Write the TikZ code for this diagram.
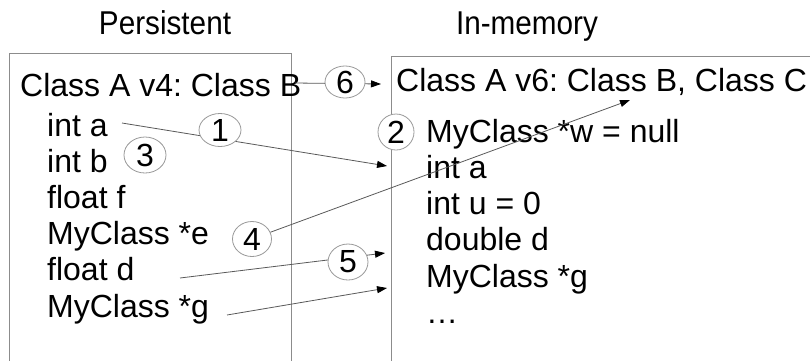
\documentclass[tikz,border=0pt]{standalone}
\usepackage{fontspec}
\setmainfont{Liberation Sans}
\usetikzlibrary{shapes.geometric,arrows.meta}
\frenchspacing
\begin{document}
\begin{tikzpicture}[x=1pt,y=-1pt,
  txt/.style={anchor=base west,inner sep=0pt,font=\fontsize{32}{36}\selectfont},
  ttl/.style={anchor=base,inner sep=0pt,xscale=0.9,font=\fontsize{33}{36}\selectfont},
  num/.style={ellipse,draw=black!40,fill=white,line width=0.8pt,inner sep=0pt,font=\fontsize{32}{34}\selectfont},
  conn/.style={draw=black!65,line width=0.8pt,-{Triangle[length=10pt,width=7pt,color=black]}},
  frame/.style={draw=black!45,line width=1pt}]
\useasboundingbox (0,0) rectangle (810,360);
% titles
\node[ttl] (tp) at (165,34) {Persistent};
\node[ttl] (tm) at (527,34) {In-memory};
% frames
\draw[frame] (9,53) rectangle (291,380);
\draw[frame] (391,56) rectangle (830,380);
% left texts
\node[txt] (lc) at (20,96) {Class A v4: Class B};
\node[txt] (la) at (47,136) {int a};
\node[txt] (lb) at (47,172) {int b};
\node[txt] (lf) at (47,208) {float f};
\node[txt] (le) at (47,244) {MyClass *e};
\node[txt] (ld) at (47,280) {float d};
\node[txt] (lg) at (47,317) {MyClass *g};
% right texts
\node[txt] (rc) at (396,91) {Class A v6: Class B, Class C};
\node[txt] (rw) at (426,142) {MyClass *w = null};
\node[txt] (ra) at (426,178) {int a};
\node[txt] (ru) at (426,214) {int u = 0};
\node[txt] (rd) at (426,250) {double d};
\node[txt] (rg) at (426,287) {MyClass *g};
\node[txt] (rx) at (426,323) {\ldots};
% connector end points
\coordinate (s6) at (295,83);
\coordinate (t6) at (381,84);
\coordinate (s1) at (122,123);
\coordinate (t1) at (387,166);
\coordinate (t4) at (630,100);
\coordinate (s5) at (180,278);
\coordinate (t5) at (385,253);
\coordinate (sg) at (227,315);
\coordinate (tg) at (387,288);
% connectors
\draw[conn] (s6) -- (t6);
\draw[conn] (s1) -- (t1);
\draw[conn] (s5) -- (t5);
\draw[conn] (sg) -- (tg);
% numbered ellipses
\node[num,minimum width=42pt,minimum height=33pt] (c1) at (220,130) {1};
\node[num,minimum width=36pt,minimum height=36pt] (c2) at (396,132) {2};
\node[num,minimum width=42pt,minimum height=36pt] (c3) at (145,155) {3};
\node[num,minimum width=39pt,minimum height=35pt] (c4) at (252,239) {4};
\node[num,minimum width=40pt,minimum height=36pt] (c5) at (348,262) {5};
\node[num,minimum width=40pt,minimum height=31pt] (c6) at (345,82) {6};
\draw[conn] (c4) -- (t4);
\end{tikzpicture}
\end{document}
